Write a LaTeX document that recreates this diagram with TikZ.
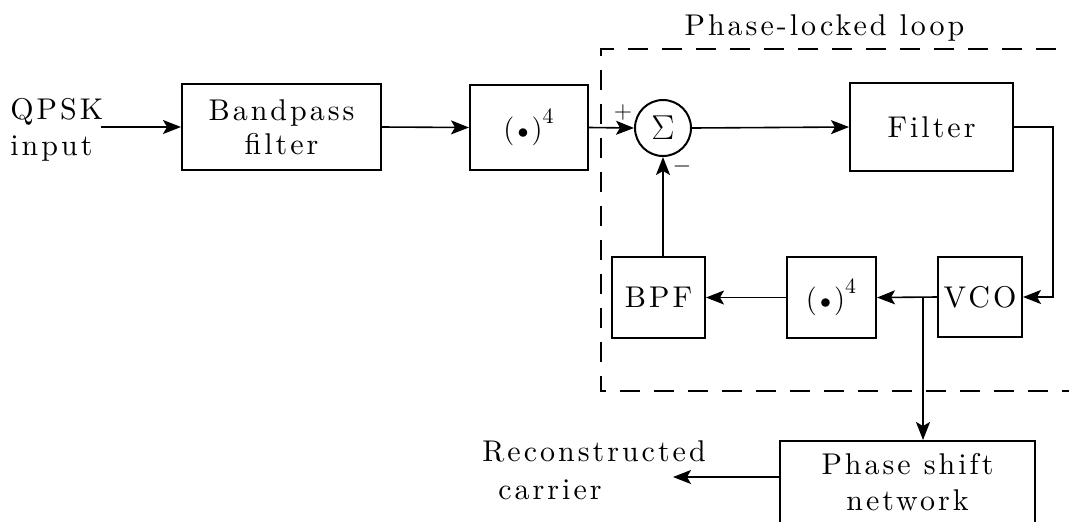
\documentclass[tikz,border=0pt]{standalone}
\usepackage{fontspec}
\newfontfamily\spacedfont{lmroman10-regular.otf}[LetterSpace=10]
\usetikzlibrary{arrows.meta}

\begin{document}
\begin{tikzpicture}[
    x=0.5pt, y=-0.5pt,
    >={Stealth[length=9pt, width=7pt, inset=2pt]},
    font=\spacedfont\fontsize{15}{17}\selectfont,
    block/.style={draw, line width=1pt, align=center, inner sep=0pt},
    wire/.style={->, line width=0.8pt},
    loopbox/.style={line width=1pt, dash pattern=on 10pt off 7pt},
    sign/.style={font=\fontsize{12}{12}\selectfont, inner sep=0pt}
]

    % --- Frame ---
    \useasboundingbox (0,0) rectangle (1069,521);
    \clip (0,0) rectangle (1069,521);

    % --- Phase-locked loop (dashed) ---
    \draw[loopbox] (1090,49) -- (601,49) -- (601,391) -- (1090,391);
    \node[anchor=base] (plltitle) at (824.5,35) {Phase-locked loop};

    % --- Forward path ---
    \node[anchor=west, align=left, inner sep=0pt] (qpsk) at (10,129.5) {QPSK\\[1pt]input};
    \coordinate (qin) at (101,127);
    \node[block, minimum width=99.5pt, minimum height=43pt] (bpf) at (281.5,127) {Bandpass\\filter};
    \node[block, minimum width=59pt, minimum height=42.5pt] (quad) at (529,127.5) {$(\mkern2mu{\scriptstyle\bullet}\mkern2mu)^{\raisebox{2pt}{$\scriptstyle 4$}}$};
    \node[draw, circle, line width=1pt, minimum size=28pt, inner sep=0pt,
          font=\fontsize{17}{17}\selectfont] (sum) at (663,128) {$\Sigma$};
    \node[sign] (plus) at (623,112) {$+$};
    \node[sign] (minus) at (682,166) {$-$};
    \node[block, minimum width=81.5pt, minimum height=44pt] (filt) at (931.5,127) {Filter};

    % --- Feedback path ---
    \node[block, minimum width=42pt, minimum height=40pt] (vco) at (980,297) {VCO};
    \node[block, minimum width=44.5pt, minimum height=40.5pt] (quadfb) at (831.5,297.5) {$(\mkern2mu{\scriptstyle\bullet}\mkern2mu)^{\raisebox{2pt}{$\scriptstyle 4$}}$};
    \node[block, minimum width=46.5pt, minimum height=40.5pt] (bpffb) at (658.5,297.5) {BPF};

    % --- Output ---
    \node[block, minimum width=127.5pt, minimum height=41pt] (shift) at (907.5,482) {Phase shift\\[1pt]network};
    \node[anchor=west, align=left, inner sep=0pt] (carrier) at (482,470) {Reconstructed\\[2pt]\hspace*{8pt}carrier};

    \coordinate (turn) at (1053,127);
    \coordinate (tap) at (923,297);
    \coordinate (rc) at (673,477);

    % --- Connectors ---
    \draw[wire] (qin) -- (bpf.west);
    \draw[wire] (bpf.east) -- (quad.west);
    \draw[wire] (quad.east) -- (sum.west);
    \draw[wire] (sum.east) -- (filt.west);
    \draw[wire] (filt.east) -- (turn) |- (vco.east);
    \draw[wire] (vco.west) -- (quadfb.east);
    \draw[wire] (quadfb.west) -- (bpffb.east);
    \draw[wire] (sum.south |- bpffb.north) -- (sum.south);
    \draw[wire] (tap) -- (tap |- shift.north);
    \draw[wire] (shift.west |- rc) -- (rc);

\end{tikzpicture}
\end{document}
